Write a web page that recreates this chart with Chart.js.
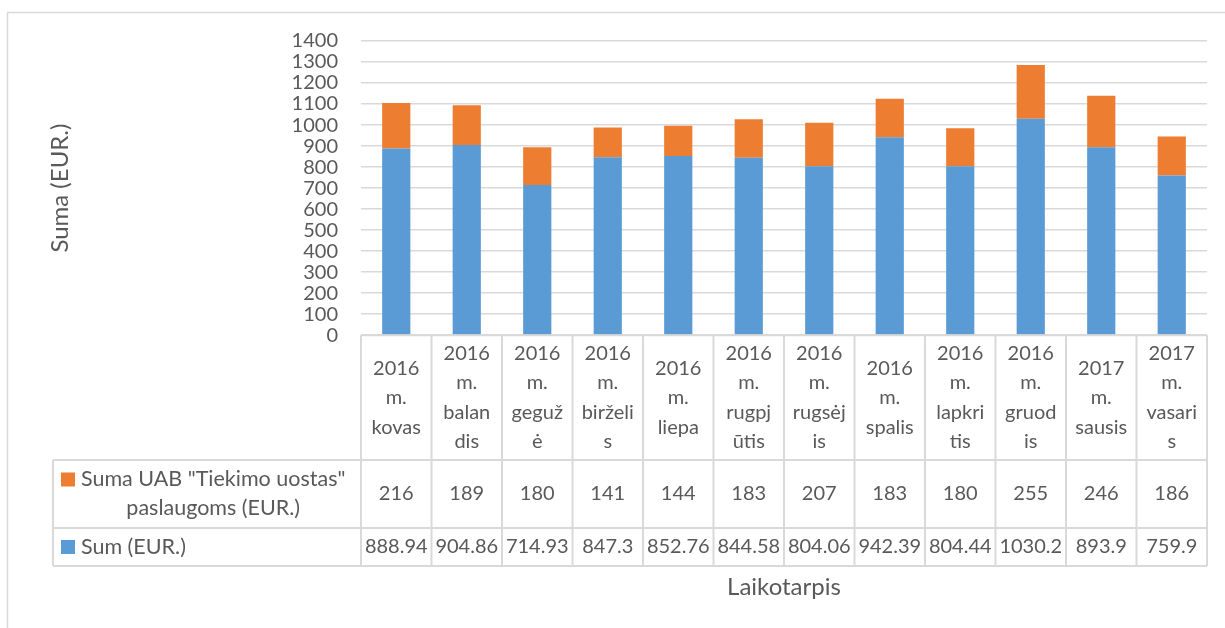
<!DOCTYPE html>
<html>
<head>
<meta charset="utf-8">
<script src="https://cdn.jsdelivr.net/npm/chart.js@4"></script>
<style>
  body { margin: 0; background: #fff; }
  canvas { display: block; }
</style>
</head>
<body>
<canvas id="chart" width="1225" height="628"></canvas>
<script>
  // category labels, already broken the way the table header shows them
  const months = [
    ["2016", "m.", "kovas"],
    ["2016", "m.", "balan", "dis"],
    ["2016", "m.", "geguž", "ė"],
    ["2016", "m.", "birželi", "s"],
    ["2016", "m.", "liepa"],
    ["2016", "m.", "rugpj", "ūtis"],
    ["2016", "m.", "rugsėj", "is"],
    ["2016", "m.", "spalis"],
    ["2016", "m.", "lapkri", "tis"],
    ["2016", "m.", "gruod", "is"],
    ["2017", "m.", "sausis"],
    ["2017", "m.", "vasari", "s"],
  ];
  const sumEur = [888.94, 904.86, 714.93, 847.3, 852.76, 844.58, 804.06, 942.39, 804.44, 1030.2, 893.9, 759.9];
  const tiekimo = [216, 189, 180, 141, 144, 183, 207, 183, 180, 255, 246, 186];
  const sumLabel = "Sum (EUR.)";
  const tiekimoLabel = ['Suma UAB "Tiekimo uostas"', "paslaugoms (EUR.)"];
  const yMin = 0;
  const yMax = 1400;
  const yStep = 100;

  const textColor = "#595959";
  const lineColor = "#d9d9d9";
  const fontFamily = "Lato, 'Noto Sans', sans-serif";

  // outer chart border (only top and left are inside the picture)
  const frame = {
    id: "frame",
    beforeDraw(chart) {
      const ctx = chart.ctx;
      ctx.save();
      ctx.strokeStyle = lineColor;
      ctx.lineWidth = 1.5;
      ctx.beginPath();
      ctx.moveTo(7.5, chart.height + 5);
      ctx.lineTo(7.5, 12.5);
      ctx.lineTo(chart.width + 5, 12.5);
      ctx.stroke();
      ctx.restore();
    }
  };

  // Excel style data table under the plot
  const dataTable = {
    id: "dataTable",
    afterDraw(chart) {
      const ctx = chart.ctx;
      const xs = chart.scales.x;
      const area = chart.chartArea;
      const n = months.length;
      const colW = (area.right - area.left) / n;
      const tableLeft = 53;
      const row1 = 460, row2 = 528, bottom = 566;
      const lh = 29.5;

      ctx.save();
      ctx.strokeStyle = lineColor;
      ctx.lineWidth = 2;
      ctx.beginPath();
      ctx.moveTo(area.left, area.bottom);
      ctx.lineTo(area.right, area.bottom);
      for (const y of [row1, row2, bottom]) {
        ctx.moveTo(tableLeft, y);
        ctx.lineTo(area.right, y);
      }
      ctx.moveTo(tableLeft, row1);
      ctx.lineTo(tableLeft, bottom);
      for (let i = 0; i <= n; i++) {
        const x = area.left + i * colW;
        ctx.moveTo(x, area.bottom);
        ctx.lineTo(x, bottom);
      }
      ctx.stroke();

      ctx.fillStyle = textColor;
      ctx.font = "20px " + fontFamily;
      ctx.textAlign = "center";
      ctx.textBaseline = "middle";
      const headMid = (area.bottom + row1) / 2;
      const mid1 = (row1 + row2) / 2;
      const mid2 = (row2 + bottom) / 2;
      for (let i = 0; i < n; i++) {
        const cx = xs.getPixelForValue(i);
        const lines = months[i];
        const y0 = headMid - (lines.length - 1) * lh / 2;
        lines.forEach((t, k) => ctx.fillText(t, cx, y0 + k * lh));
        ctx.fillText(String(tiekimo[i]), cx, mid1);
        ctx.fillText(String(sumEur[i]), cx, mid2);
      }

      // row headers with legend keys
      const dsSum = chart.data.datasets[0];
      const dsTiek = chart.data.datasets[1];
      const textX = 81;
      ctx.font = "21.5px " + fontFamily;
      ctx.fillStyle = dsTiek.backgroundColor;
      ctx.fillRect(61, mid1 - 14.5 - 7, 14, 14);
      ctx.fillStyle = dsSum.backgroundColor;
      ctx.fillRect(61, mid2 - 7, 14, 14);
      ctx.fillStyle = textColor;
      ctx.textAlign = "left";
      ctx.fillText(tiekimoLabel[0], textX, mid1 - 14.5);
      const w1 = ctx.measureText(tiekimoLabel[0]).width;
      ctx.textAlign = "center";
      ctx.fillText(tiekimoLabel[1], textX + w1 / 2, mid1 + 14.5);
      ctx.textAlign = "left";
      ctx.fillText(sumLabel, textX, mid2);
      ctx.restore();
    }
  };

  const chart = new Chart(document.getElementById("chart"), {
    type: "bar",
    data: {
      labels: months,
      datasets: [
        {
          label: sumLabel,
          data: sumEur,
          backgroundColor: "#5b9bd5",
        },
        {
          label: tiekimoLabel.join(" "),
          data: tiekimo,
          backgroundColor: "#ed7d31",
        },
      ],
    },
    options: {
      responsive: false,
      animation: false,
      layout: {
        padding: { left: 0, right: 18, top: 41, bottom: 0 }
      },
      datasets: {
        bar: {
          categoryPercentage: 1,
          barPercentage: 0.4,
        }
      },
      plugins: {
        legend: { display: false },
        tooltip: { enabled: false },
      },
      scales: {
        x: {
          stacked: true,
          grid: { display: false, drawTicks: false },
          border: { display: false },
          ticks: { display: false },
          title: {
            display: true,
            text: "Laikotarpis",
            color: textColor,
            font: { family: fontFamily, size: 24 },
            padding: { top: 238, bottom: 26 },
          },
        },
        y: {
          stacked: true,
          min: yMin,
          max: yMax,
          afterFit: (scale) => { scale.width = 361; },
          ticks: {
            stepSize: yStep,
            autoSkip: false,
            padding: 23,
            color: textColor,
            font: { family: fontFamily, size: 20 },
            callback: (v) => String(v),
          },
          grid: {
            color: lineColor,
            lineWidth: 1.5,
            drawTicks: false,
          },
          border: { display: false },
          title: {
            display: true,
            text: "Suma (EUR.)",
            color: textColor,
            font: { family: fontFamily, size: 24 },
            padding: { top: 46 },
          },
        },
      },
    },
    plugins: [frame, dataTable],
  });
</script>
</body>
</html>
